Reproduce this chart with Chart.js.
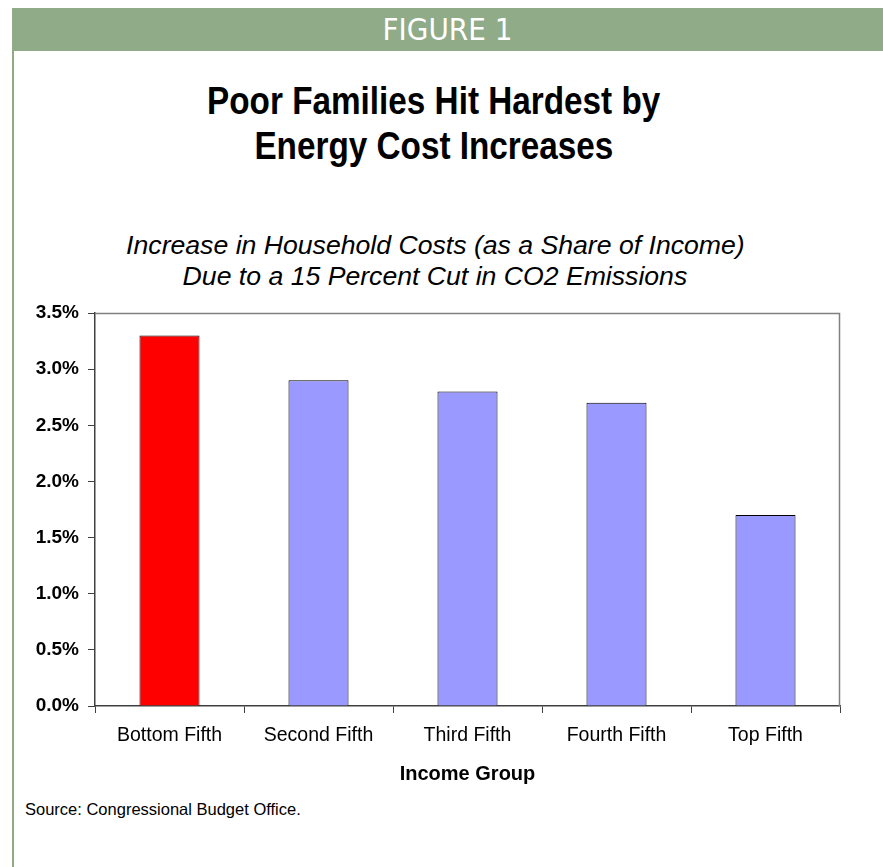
<!DOCTYPE html>
<html>
<head>
<meta charset="utf-8">
<script src="https://cdn.jsdelivr.net/npm/chart.js@4.4.0/dist/chart.umd.min.js"></script>
<style>
  html, body { margin: 0; padding: 0; background: #fff; }
  body { width: 883px; height: 867px; position: relative; overflow: hidden; font-family: "Liberation Sans", Arial, sans-serif; }
  #band { position: absolute; left: 12px; top: 8px; width: 871px; height: 43px; background: #8FAB88; }
  #band span { position: absolute; left: 0; right: 0; top: 0; line-height: 43px; text-align: center; color: #fff; font-family: "Liberation Sans Narrow", "DejaVu Sans Condensed", "Arial Narrow", sans-serif; font-size: 31px; }
  #leftline { position: absolute; left: 12px; top: 8px; width: 2px; height: 859px; background: #8FAB88; }
  .line { display: block; text-align: center; white-space: nowrap; }
  .line span { display: inline-block; transform-origin: 50% 50%; }
  #title { position: absolute; left: 0; width: 868px; top: 79px; font-family: "Liberation Sans", Arial, sans-serif; font-weight: bold; font-size: 38px; line-height: 45px; color: #000; }
  #title .line span { transform: scaleX(0.876); }
  #subtitle { position: absolute; left: 0; width: 870px; top: 230px; font-style: italic; font-size: 25px; line-height: 31px; color: #000; }
  #subtitle .line span { transform: scaleX(1.065); }
  #source { position: absolute; left: 25px; top: 800px; font-size: 16.5px; color: #000; }
  #c { position: absolute; left: 0; top: 290px; }
</style>
</head>
<body>
<div id="band"><span>FIGURE 1</span></div>
<div id="leftline"></div>
<div id="title"><div class="line"><span>Poor Families Hit Hardest by</span></div><div class="line"><span>Energy Cost Increases</span></div></div>
<div id="subtitle"><div class="line"><span>Increase in Household Costs (as a Share of Income)</span></div><div class="line"><span>Due to a 15 Percent Cut in CO2 Emissions</span></div></div>
<div id="source">Source: Congressional Budget Office.</div>
<canvas id="c" width="883" height="510"></canvas>
<script>
const categories = ["Bottom Fifth", "Second Fifth", "Third Fifth", "Fourth Fifth", "Top Fifth"];
const costShare = [3.3, 2.9, 2.8, 2.7, 1.7];
const barColors = ["#FF0000", "#9999FF", "#9999FF", "#9999FF", "#9999FF"];
const yTickValues = [0, 0.5, 1.0, 1.5, 2.0, 2.5, 3.0, 3.5];
const xAxisTitle = "Income Group";

const frame = {
  id: 'frame',
  beforeDatasetsDraw(chart) {
    const {ctx, chartArea: a} = chart;
    ctx.save();
    ctx.strokeStyle = '#808080';
    ctx.lineWidth = 1.5;
    ctx.beginPath();
    ctx.moveTo(a.left, a.top + 0.5);
    ctx.lineTo(a.right - 0.5, a.top + 0.5);
    ctx.lineTo(a.right - 0.5, a.bottom);
    ctx.stroke();
    ctx.restore();
  }
};

new Chart(document.getElementById('c'), {
  type: 'bar',
  data: {
    labels: categories,
    datasets: [{
      data: costShare,
      backgroundColor: barColors,
      borderColor: '#000',
      borderWidth: 1,
      barPercentage: 0.403,
      categoryPercentage: 1.0
    }]
  },
  options: {
    responsive: false,
    animation: false,
    devicePixelRatio: 1,
    layout: { padding: { left: 0, right: 43, top: 23, bottom: 0 } },
    plugins: { legend: { display: false }, tooltip: { enabled: false }, title: { display: false } },
    scales: {
      y: {
        min: 0, max: 3.5,
        afterFit(s) { s.width = 95; },
        afterBuildTicks(s) { s.ticks = yTickValues.map(v => ({ value: v })); },
        grid: { display: true, drawOnChartArea: false, drawTicks: true, tickLength: 7, color: '#404040', lineWidth: 1 },
        border: { display: true, color: '#404040', width: 1.5 },
        ticks: {
          padding: 9,
          color: '#000',
          font: { family: '"Liberation Sans", Arial, sans-serif', size: 19, weight: 'bold' },
          callback: v => Number(v).toFixed(1) + '%'
        }
      },
      x: {
        afterFit(s) { s.height = 94; },
        grid: { display: true, drawOnChartArea: false, drawTicks: true, tickLength: 7, color: '#404040', lineWidth: 1, offset: true },
        border: { display: true, color: '#404040', width: 1.5 },
        ticks: {
          padding: 11,
          color: '#000',
          maxRotation: 0,
          font: { family: '"Liberation Sans", Arial, sans-serif', size: 19.5 }
        },
        title: {
          display: true,
          text: xAxisTitle,
          color: '#000',
          font: { family: '"Liberation Sans", Arial, sans-serif', size: 20, weight: 'bold' },
          padding: { top: 0, bottom: 14 }
        }
      }
    }
  },
  plugins: [frame]
});
</script>
</body>
</html>
